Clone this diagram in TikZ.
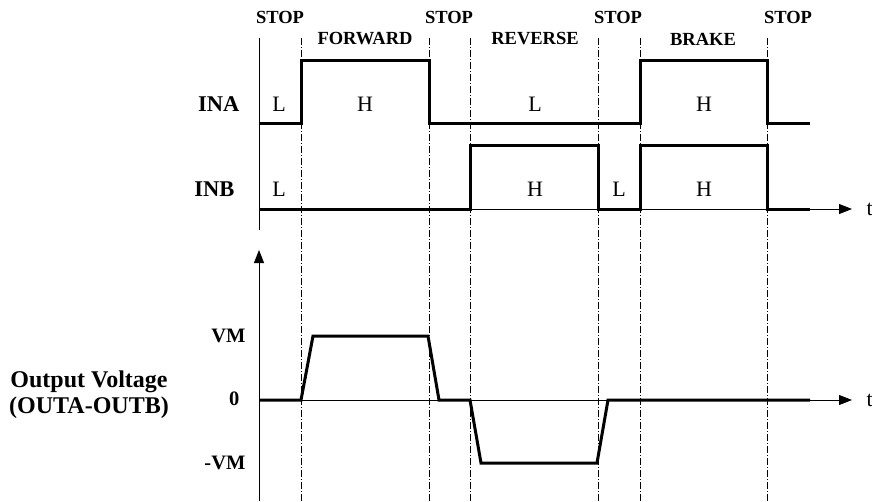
\documentclass[tikz,border=0pt]{standalone}
\usepackage{fontspec}
\setmainfont{Liberation Serif}
\usetikzlibrary{arrows.meta}
\begin{document}
\begin{tikzpicture}[x=1pt,y=-1pt,
  sig/.style={line width=3pt,line join=miter,line cap=butt},
  axis/.style={line width=0.9pt,-{Triangle[length=13pt,width=10pt]}},
  thin/.style={line width=0.9pt},
  dd/.style={line width=0.7pt,dash pattern=on 7pt off 2pt on 1pt off 2pt},
  top/.style={font=\fontsize{18.5}{18.5}\selectfont\bfseries},
  nm/.style={font=\fontsize{22.5}{22.5}\selectfont\bfseries},
  ov/.style={font=\fontsize{24}{26}\selectfont\bfseries},
  lv/.style={font=\fontsize{22}{22}\selectfont},
  vl/.style={font=\fontsize{20.5}{20.5}\selectfont\bfseries},
  tl/.style={font=\fontsize{22}{22}\selectfont}]
\useasboundingbox (0,0) rectangle (872,501);
% time marks
\foreach \n/\x in {a/301,b/429,c/470,d/598,e/640,f/767}{
  \coordinate (T\n) at (\x,38);
  \coordinate (B\n) at (\x,501);
  \draw[dd] (T\n) -- (B\n);
}
% top labels
\node[top] (s1) at (280,17) {STOP};
\node[top] (s2) at (449,17) {STOP};
\node[top] (s3) at (618,17) {STOP};
\node[top] (s4) at (788,17) {STOP};
\node[top] (fw) at (365,39) {FORWARD};
\node[top] (rv) at (535,39) {REVERSE};
\node[top] (br) at (703,39) {BRAKE};
% left solid line
\coordinate (L0) at (259,38);
\coordinate (L1) at (259,230);
\draw[thin] (L0) -- (L1);
% INA
\node[nm,anchor=east] (ina) at (243,104) {INA};
\draw[sig] (259,123) -- (301,123) -- (301,60) -- (429,60) -- (429,123) -- (640,123) -- (640,60) -- (767,60) -- (767,123) -- (810,123);
\node[lv] (a1) at (279,104) {L};
\node[lv] (a2) at (365,104) {H};
\node[lv] (a3) at (535,104) {L};
\node[lv] (a4) at (704,104) {H};
% INB
\node[nm,anchor=east] (inb) at (238,189) {INB};
\coordinate (IB0) at (259,209);
\coordinate (IB1) at (852,209);
\draw[axis] (IB0) -- (IB1);
\draw[sig] (259,209) -- (470,209) -- (470,145) -- (598,145) -- (598,209) -- (640,209) -- (640,145) -- (767,145) -- (767,209) -- (810,209);
\node[lv] (b1) at (279,189) {L};
\node[lv] (b2) at (535,189) {H};
\node[lv] (b3) at (619,189) {L};
\node[lv] (b4) at (704,189) {H};
\node[tl,anchor=west] (t1) at (863,209) {t};
% output
\coordinate (O0) at (259,501);
\coordinate (O1) at (259,250);
\draw[axis] (O0) -- (O1);
\coordinate (Z0) at (259,400);
\coordinate (Z1) at (852,400);
\draw[axis] (Z0) -- (Z1);
\draw[sig] (259,400) -- (301,400) -- (313,336) -- (428,336) -- (439,400) -- (470,400) -- (481,463) -- (597,463) -- (608,400) -- (810,400);
\node[tl,anchor=west] (t2) at (863,400) {t};
\node[vl,anchor=east] (vm) at (249,336) {VM};
\node[vl,anchor=east] (z) at (243,399) {0};
\node[vl,anchor=east] (nvm) at (249,463) {-VM};
\node[ov,align=center] (ov) at (89,395) {Output Voltage\\(OUTA-OUTB)};
\end{tikzpicture}
\end{document}
